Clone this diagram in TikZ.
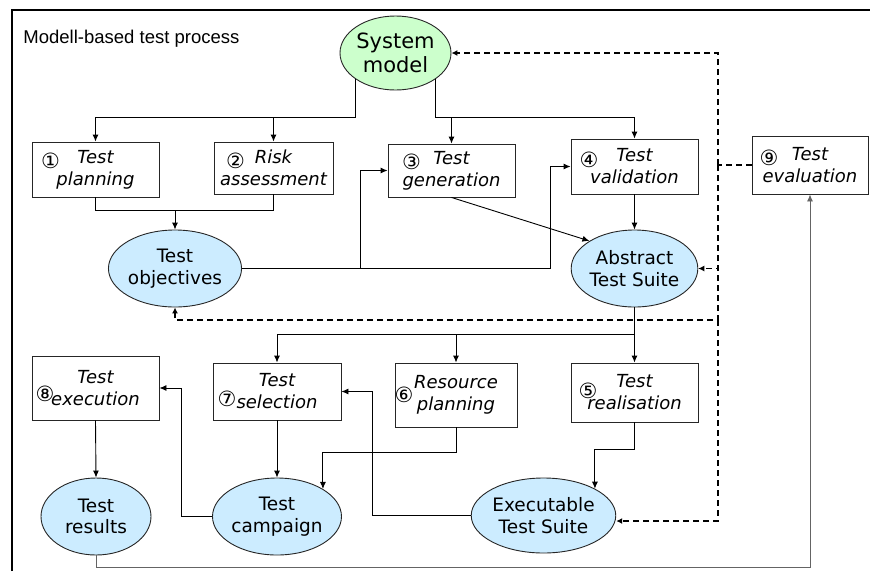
\documentclass[tikz,border=0pt]{standalone}
\usepackage{fontspec}
\setmainfont{DejaVu Sans}
\newfontfamily\titlefont{Liberation Sans}
\usetikzlibrary{shapes.geometric,arrows.meta}
\definecolor{modelgreen}{RGB}{204,255,204}
\definecolor{artblue}{RGB}{204,236,255}
\definecolor{linegray}{RGB}{100,100,100}
\begin{document}
\begin{tikzpicture}[x = 1pt, y = -1pt, line width = 0.9pt,
		stepbox/.style = {draw = black!85, fill = white, align = center, inner sep = 0pt, font = \fontsize{18}{22}\selectfont\itshape},
		artefact/.style = {ellipse, draw = black!85, fill = artblue, align = center, inner sep = 0pt, font = \fontsize{18.5}{21.5}\selectfont},
		num/.style = {inner sep = 0pt, font = \fontsize{21}{21}\selectfont},
		flow/.style = {-{Latex[length = 7pt, width = 6pt]}},
		dashline/.style = {line width = 1.8pt, dash pattern = on 6pt off 4pt},
		feedback/.style = {dashline, -{Latex[length = 6pt, width = 6pt]}}]
		\useasboundingbox (0, 0) rectangle (870, 571);
		% frame
		\draw[line width = 1.3pt] (12, 571) -- (12, 10) -- (870, 10);
		\node[anchor = base west, inner sep = 0pt, font = \titlefont\fontsize{18.5}{20}\selectfont] (title) at (23, 43) {Modell-based test process};
		% model and artefacts
		\node[ellipse, draw = black!85, fill = modelgreen, inner sep = 0pt, align = center, minimum width = 111, minimum height = 74, font = \fontsize{21}{24}\selectfont] (sysmodel) at (395.5, 53) {System\\model};
		\node[artefact, minimum width = 110, minimum height = 77] (objectives) at (175, 268.5) {Test\\objectives};
		\node[artefact, minimum width = 109, minimum height = 77] (ats) at (634.5, 268.5) {Abstract\\Test Suite};
		\node[artefact, minimum width = 110, minimum height = 77] (results) at (96, 516.5) {Test\\results};
		\node[artefact, minimum width = 110, minimum height = 77] (campaign) at (277, 516.5) {Test\\campaign};
		\node[artefact, minimum width = 131, minimum height = 75] (ets) at (543.5, 515.5) {Executable\\Test Suite};
		% steps
		\node[stepbox, minimum width = 127, minimum height = 55] (plan) at (95.5, 169.5) {Test\\planning};
		\node[stepbox, minimum width = 119, minimum height = 52] (risk) at (273.5, 168) {Risk\\assessment};
		\node[stepbox, minimum width = 127, minimum height = 53] (gen) at (451.5, 170.5) {Test\\generation};
		\node[stepbox, minimum width = 127, minimum height = 55] (valid) at (634.5, 166.5) {Test\\validation};
		\node[stepbox, minimum width = 116, minimum height = 58] (eval) at (810, 165) {Test\\evaluation};
		\node[stepbox, minimum width = 127, minimum height = 64] (exec) at (95.5, 388) {Test\\execution};
		\node[stepbox, minimum width = 128, minimum height = 57] (select) at (277, 391.5) {Test\\selection};
		\node[stepbox, minimum width = 122, minimum height = 64] (resource) at (456, 395) {Resource\\planning};
		\node[stepbox, minimum width = 127, minimum height = 59] (real) at (634.5, 392.5) {Test\\realisation};
		% step numbers
		\node[num] (n1) at (50.5, 161) {①};
		\node[num] (n2) at (235.5, 161) {②};
		\node[num] (n3) at (411.5, 162) {③};
		\node[num] (n4) at (589, 160) {④};
		\node[num] (n5) at (588, 391) {⑤};
		\node[num] (n6) at (404, 395) {⑥};
		\node[num] (n7) at (227, 399) {⑦};
		\node[num] (n8) at (45, 394) {⑧};
		\node[num] (n9) at (769, 158) {⑨};
		% junctions
		\coordinate (merge) at (175, 210);
		\coordinate (fb) at (718, 165);
		\coordinate (fbobj) at (718, 320);
		% top half
		\draw[flow] (sysmodel.south west) -- ++(0, 38) -| (plan.north);
		\draw[flow] (sysmodel.south west) -- ++(0, 38) -| (risk.north);
		\draw[flow] (sysmodel.south east) -- ++(0, 38) -| (gen.north);
		\draw[flow] (sysmodel.south east) -- ++(0, 38) -| (valid.north);
		\draw (plan.south) |- (merge);
		\draw (risk.south) |- (merge);
		\draw[flow] (merge) -- (objectives.north);
		\draw[flow] (objectives.east) -- ++(118, 0) |- (gen.west);
		\draw[flow] (objectives.east) -- ++(308, 0) |- (valid.west);
		\draw[flow] (gen.south) -- (ats.north west);
		\draw[flow] (valid.south) -- (ats.north);
		% bottom half
		\draw[flow] (ats.south) -- ++(0, 27) -| (select.north);
		\draw[flow] (ats.south) -- ++(0, 27) -| (resource.north);
		\draw[flow] (ats.south) -- (real.north);
		\draw[flow] (exec.south) -- (results.north);
		\draw[flow] (select.south) -- (campaign.north);
		\draw[flow] (resource.south) -- ++(0, 25) -| (campaign.north east);
		\draw[flow] (real.south) -- ++(0, 27) -| (ets.north east);
		\draw[flow] (campaign.west) -- ++(-31, 0) |- (exec.east);
		\draw[flow] (ets.west) -- ++(-98, 0) |- (select.east);
		\draw[flow, draw = linegray] (results.south) -- ++(0, 12) -| (eval.south);
		% feedback from evaluation
		\draw[dashline] (eval.west) -- (fb);
		\draw[feedback] (fb) |- (sysmodel.east);
		\draw[feedback] (fb) |- (ats.east);
		\draw[feedback] (fb) -- (fbobj) -| (objectives.south);
		\draw[feedback] (fbobj) |- ([yshift = -5.5pt]ets.east);
	\end{tikzpicture}
\end{document}
